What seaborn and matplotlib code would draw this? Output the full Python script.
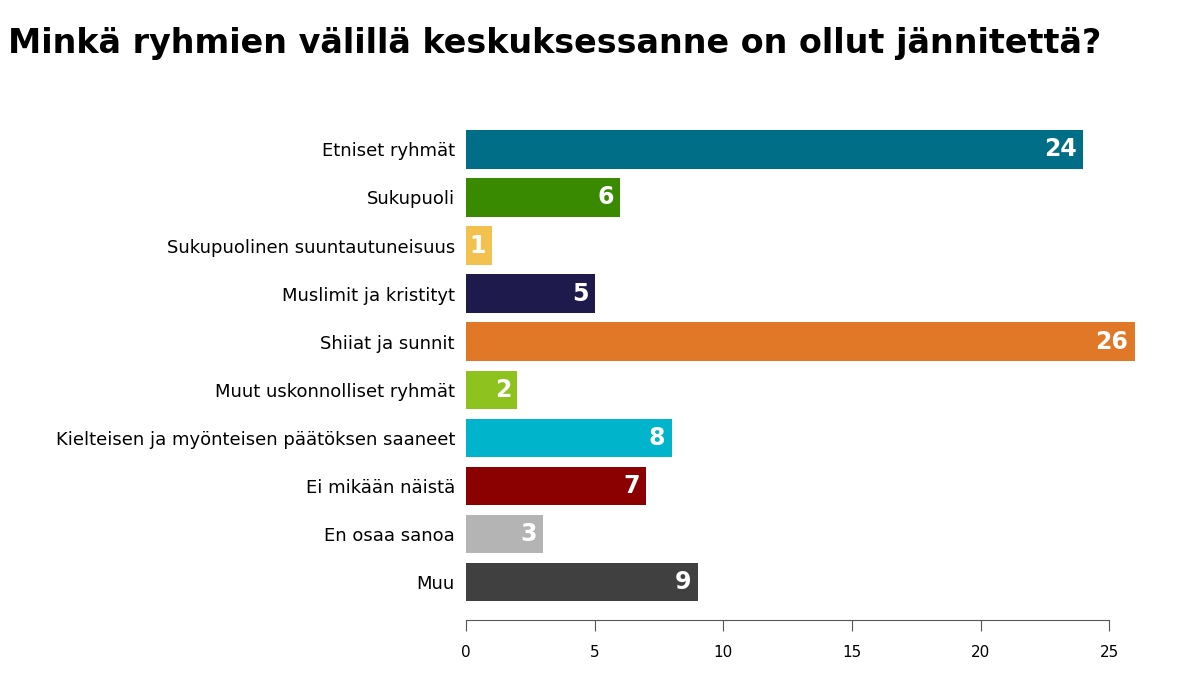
import matplotlib
matplotlib.use("Agg")
import matplotlib.pyplot as plt
import seaborn as sns
import pandas as pd

categories = ["Etniset ryhmät", "Sukupuoli", "Sukupuolinen suuntautuneisuus",
              "Muslimit ja kristityt", "Shiiat ja sunnit", "Muut uskonnolliset ryhmät",
              "Kielteisen ja myönteisen päätöksen saaneet", "Ei mikään näistä",
              "En osaa sanoa", "Muu"]
values = [24, 6, 1, 5, 26, 2, 8, 7, 3, 9]
colors = ["#006E87", "#3A8A00", "#F2C14E", "#1E1A4B", "#E07828",
          "#8DC21F", "#00B4CC", "#8B0000", "#B4B4B4", "#404040"]
ticks = [0, 5, 10, 15, 20, 25]
title = "Minkä ryhmien välillä keskuksessanne on ollut jännitettä?"

df = pd.DataFrame({"cat": categories, "val": values})
fig = plt.figure(figsize=(11.98, 6.74), dpi=100)
ax = fig.add_axes([0.389, 0.080, 0.5626, 0.734])
sns.barplot(data=df, x="val", y="cat", hue="cat", palette=colors, legend=False,
            width=0.8, saturation=1, ax=ax)
ax.set_xlim(0, 26.2)
ax.set_ylim(9.79, -0.5)
for i, v in enumerate(values):
    ax.text(v - 0.25, i, str(v), ha="right", va="center", color="white",
            fontsize=17, fontweight="bold")
ax.set_xticks(ticks)
ax.set_xlabel("")
ax.set_ylabel("")
for s in ["top", "right", "left"]:
    ax.spines[s].set_visible(False)
ax.spines["bottom"].set_bounds(0, 25)
ax.spines["bottom"].set_color("#555555")
ax.tick_params(axis="y", length=0, labelsize=13, pad=8)
ax.tick_params(axis="x", length=8, color="#555555", labelsize=11, pad=10)
fig.text(0.007, 0.935, title, fontsize=24, fontweight="bold", ha="left", va="center")
fig.savefig("out.png", dpi=100)
